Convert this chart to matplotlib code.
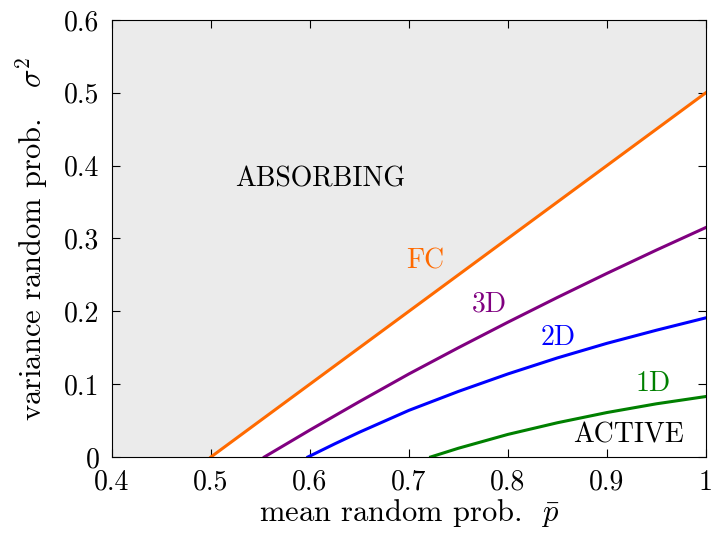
import numpy as np
import matplotlib
matplotlib.use("Agg")
import matplotlib.pyplot as plt

plt.rcParams['font.family'] = 'serif'
plt.rcParams['font.serif'] = ['cmr10']
plt.rcParams['mathtext.fontset'] = 'cm'
plt.rcParams['axes.formatter.use_mathtext'] = True

# phase boundaries (mean p, variance sigma^2)
fc_p = [0.5, 1.0]
fc_s = [0.0, 0.5]

d3_p = [0.554, 0.6, 0.65, 0.7, 0.75, 0.8, 0.85, 0.9, 0.95, 1.0]
d3_s = [0.0, 0.037, 0.076, 0.114, 0.150, 0.185, 0.219, 0.252, 0.284, 0.315]

d2_p = [0.598, 0.625, 0.65, 0.7, 0.75, 0.8, 0.85, 0.9, 0.95, 1.0]
d2_s = [0.0, 0.018, 0.034, 0.064, 0.090, 0.114, 0.136, 0.156, 0.174, 0.191]

d1_p = [0.722, 0.75, 0.8, 0.85, 0.9, 0.95, 1.0]
d1_s = [0.0, 0.012, 0.031, 0.047, 0.061, 0.073, 0.083]

xticks = [0.4, 0.5, 0.6, 0.7, 0.8, 0.9, 1.0]
xticklabels = ['0.4', '0.5', '0.6', '0.7', '0.8', '0.9', '1']
yticks = [0, 0.1, 0.2, 0.3, 0.4, 0.5, 0.6]
yticklabels = ['0', '0.1', '0.2', '0.3', '0.4', '0.5', '0.6']

fig = plt.figure(figsize=(7.13, 5.37), dpi=100)
ax = fig.add_axes([0.157, 0.149, 0.833, 0.814])

# absorbing region above the FC line
ax.fill_between([0.4] + fc_p, [0.0] + fc_s, 0.6, color='#ebebeb', lw=0)

ax.plot(fc_p, fc_s, color='#ff6a00', lw=2.2)
ax.plot(d3_p, d3_s, color='#800080', lw=2.2)
ax.plot(d2_p, d2_s, color='#0000ff', lw=2.2)
ax.plot(d1_p, d1_s, color='#008000', lw=2.2)

fs = 20
ax.text(0.61, 0.381, 'ABSORBING', fontsize=fs, ha='center', va='center')
ax.text(0.922, 0.030, 'ACTIVE', fontsize=fs, ha='center', va='center')
ax.text(0.716, 0.268, 'FC', fontsize=fs, color='#ff6a00', ha='center', va='center')
ax.text(0.781, 0.209, '3D', fontsize=fs, color='#800080', ha='center', va='center')
ax.text(0.851, 0.163, '2D', fontsize=fs, color='#0000ff', ha='center', va='center')
ax.text(0.947, 0.101, '1D', fontsize=fs, color='#008000', ha='center', va='center')

ax.set_xlim(0.4, 1.0)
ax.set_ylim(0, 0.6)
ax.set_xticks(xticks)
ax.set_xticklabels(xticklabels)
ax.set_yticks(yticks)
ax.set_yticklabels(yticklabels)
ax.tick_params(direction='in', top=True, right=True, length=6, labelsize=20)
ax.tick_params(axis='x', pad=9)
ax.tick_params(axis='y', pad=9)
ax.set_xlabel(r'mean random prob.  $\bar{p}$', fontsize=22, labelpad=1)
ax.set_ylabel(r'variance random prob.   $\sigma^2$', fontsize=22, labelpad=10)

fig.savefig('out.png', dpi=100)
